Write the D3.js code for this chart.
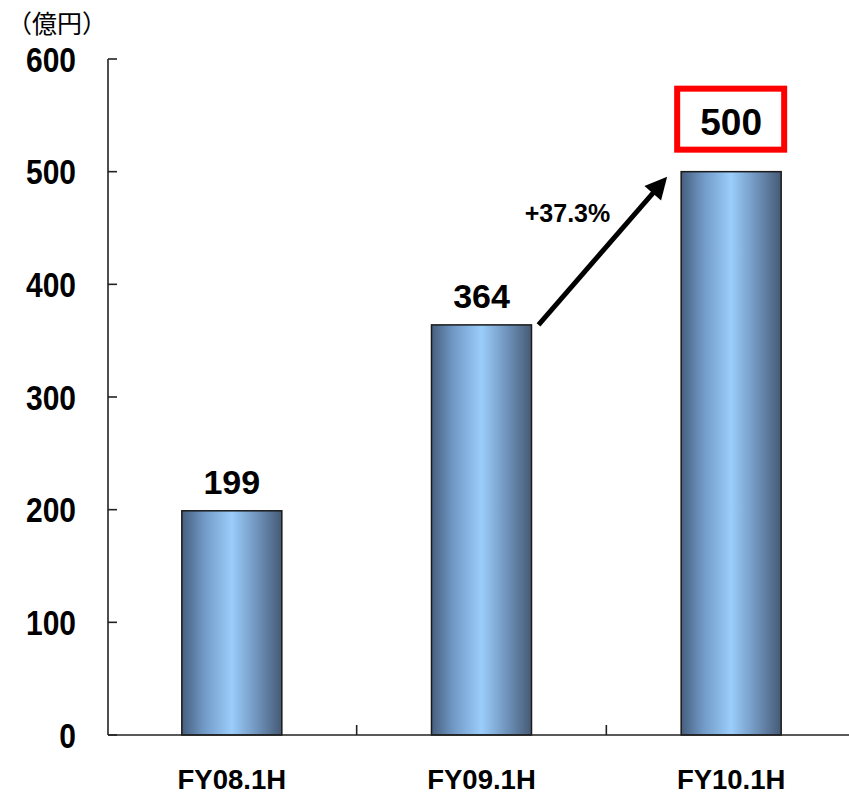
<!DOCTYPE html>
<html>
<head>
<meta charset="utf-8">
<script src="https://cdn.jsdelivr.net/npm/d3@7"></script>
<style>
	body { margin: 0; background: #fff; }
	svg { display: block; }
</style>
</head>
<body>
<div id="chart"></div>
<script>
var categories = ["FY08.1H", "FY09.1H", "FY10.1H"];
var values = [199, 364, 500];
var yTicks = [0, 100, 200, 300, 400, 500, 600];
var unitLabel = "（億円）";
var growthLabel = "+37.3%";

var width = 849,
	height = 795;

var font = "'Liberation Sans', Arial, sans-serif";

var svg = d3
	.select("#chart")
	.append("svg")
	.attr("width", width)
	.attr("height", height);

var x = d3.scaleBand().domain(categories).range([107, 856]).padding(0);
var y = d3.scaleLinear().domain([0, 600]).range([735, 59]);

var barW = 100;
function barLeft(c) {
	return x(c) + x.bandwidth() / 2 - barW / 2;
}

// gradient for the bars
var grad = svg
	.append("defs")
	.append("linearGradient")
	.attr("id", "barGrad")
	.attr("x1", "0%")
	.attr("x2", "100%")
	.attr("y1", "0%")
	.attr("y2", "0%");
grad.append("stop").attr("offset", "0%").attr("stop-color", "#465e7e");
grad.append("stop").attr("offset", "22%").attr("stop-color", "#7199c6");
grad.append("stop").attr("offset", "50%").attr("stop-color", "#9bcdfb");
grad.append("stop").attr("offset", "76%").attr("stop-color", "#6e92ba");
grad.append("stop").attr("offset", "100%").attr("stop-color", "#465a76");

// bars
svg
	.selectAll("rect.bar")
	.data(values)
	.join("rect")
	.attr("class", "bar")
	.attr("x", (d, i) => barLeft(categories[i]))
	.attr("y", (d) => y(d))
	.attr("width", barW)
	.attr("height", (d) => y(0) - y(d))
	.attr("fill", "url(#barGrad)")
	.attr("stroke", "#1a1a1a")
	.attr("stroke-width", 1.5);

// axes
svg
	.append("line")
	.attr("x1", 108)
	.attr("x2", 108)
	.attr("y1", y(600))
	.attr("y2", y(0))
	.attr("stroke", "#222")
	.attr("stroke-width", 1.6);

svg
	.append("line")
	.attr("x1", 108)
	.attr("x2", width)
	.attr("y1", y(0))
	.attr("y2", y(0))
	.attr("stroke", "#222")
	.attr("stroke-width", 1.6);

svg
	.selectAll("line.ytick")
	.data(yTicks)
	.join("line")
	.attr("class", "ytick")
	.attr("x1", 108)
	.attr("x2", 117)
	.attr("y1", (d) => y(d))
	.attr("y2", (d) => y(d))
	.attr("stroke", "#222")
	.attr("stroke-width", 1.6);

svg
	.selectAll("text.ylab")
	.data(yTicks)
	.join("text")
	.attr("class", "ylab")
	.attr("text-anchor", "end")
	.attr("transform", (d) => `translate(76,${y(d) + 12.5}) scale(1,1.18)`)
	.style("font", `bold 30px ${font}`)
	.attr("fill", "#000")
	.text((d) => d);

// x ticks at band boundaries
svg
	.selectAll("line.xtick")
	.data(categories.slice(1))
	.join("line")
	.attr("class", "xtick")
	.attr("x1", (d) => x(d))
	.attr("x2", (d) => x(d))
	.attr("y1", y(0))
	.attr("y2", y(0) - 10)
	.attr("stroke", "#222")
	.attr("stroke-width", 1.6);

svg
	.selectAll("text.xlab")
	.data(categories)
	.join("text")
	.attr("class", "xlab")
	.attr("text-anchor", "middle")
	.attr("x", (d) => x(d) + x.bandwidth() / 2)
	.attr("y", 789)
	.style("font", `bold 27.5px ${font}`)
	.attr("fill", "#000")
	.text((d) => d);

// value labels (first two plain)
svg
	.selectAll("text.vlab")
	.data(values.slice(0, 2))
	.join("text")
	.attr("class", "vlab")
	.attr("text-anchor", "middle")
	.attr("x", (d, i) => x(categories[i]) + x.bandwidth() / 2)
	.attr("y", (d) => y(d) - 17)
	.style("font", `bold 34px ${font}`)
	.attr("fill", "#000")
	.text((d) => d);

// highlighted last value
var lastCat = categories[2];
var lastCx = x(lastCat) + x.bandwidth() / 2;
var lastTop = y(values[2]);
svg
	.append("rect")
	.attr("x", lastCx - 54)
	.attr("y", lastTop - 83)
	.attr("width", 107)
	.attr("height", 61)
	.attr("fill", "#fff")
	.attr("stroke", "#ff0000")
	.attr("stroke-width", 6);
svg
	.append("text")
	.attr("text-anchor", "middle")
	.attr("x", lastCx)
	.attr("y", lastTop - 37)
	.style("font", `bold 37px ${font}`)
	.attr("fill", "#000")
	.text(values[2]);

// growth arrow
var x0 = barLeft(categories[1]) + barW + 7,
	y0 = y(values[1]),
	x1 = barLeft(categories[2]) - 14,
	y1 = y(values[2]) + 5;
var ang = Math.atan2(y1 - y0, x1 - x0);
var headLen = 22,
	headW = 11;
var bx = x1 - headLen * Math.cos(ang),
	by = y1 - headLen * Math.sin(ang);
svg
	.append("line")
	.attr("x1", x0)
	.attr("y1", y0)
	.attr("x2", bx + 2 * Math.cos(ang))
	.attr("y2", by + 2 * Math.sin(ang))
	.attr("stroke", "#000")
	.attr("stroke-width", 5);
svg
	.append("path")
	.attr(
		"d",
		`M${x1},${y1}L${bx - headW * Math.sin(ang)},${by + headW * Math.cos(ang)}L${bx + headW * Math.sin(ang)},${by - headW * Math.cos(ang)}Z`
	)
	.attr("fill", "#000");

svg
	.append("text")
	.attr("text-anchor", "middle")
	.attr("x", x0 + 29)
	.attr("y", y(values[1]) - 103)
	.style("font", `bold 25px ${font}`)
	.attr("fill", "#000")
	.text(growthLabel);

// unit label
svg
	.append("text")
	.attr("x", 7)
	.attr("y", 33)
	.style("font", "25px 'Noto Sans CJK JP', sans-serif")
	.attr("fill", "#000")
	.text(unitLabel);
</script>
</body>
</html>
